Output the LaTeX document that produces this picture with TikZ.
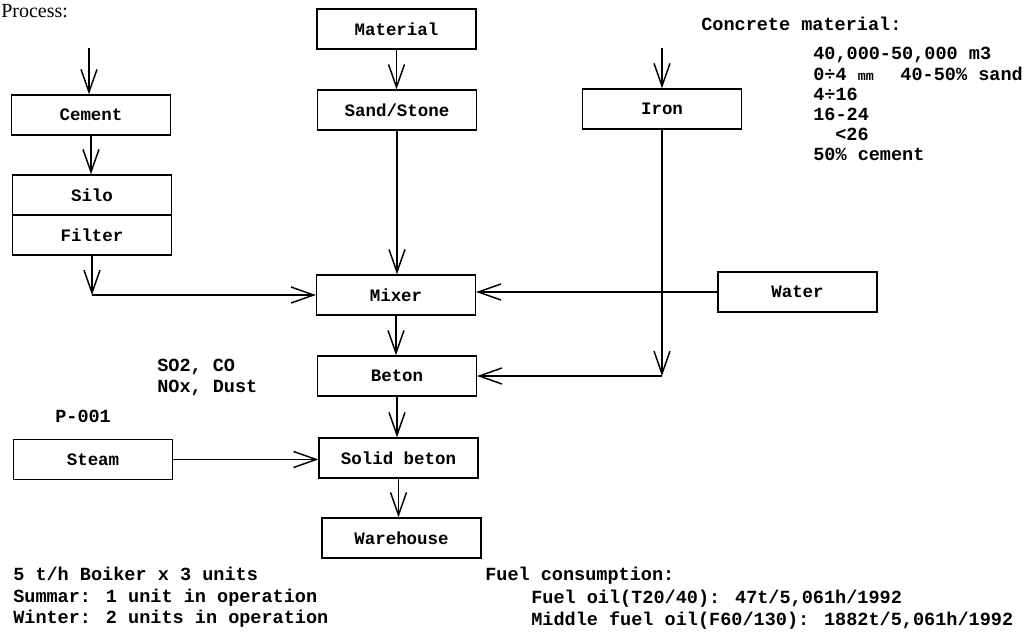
\documentclass[tikz,border=0pt]{standalone}
\usepackage{fontspec}
\setmainfont{Liberation Mono}
\newfontfamily\headfont{Liberation Serif}
\usetikzlibrary{arrows.meta}
\newcommand\labfont{\fontsize{13.1}{15}\selectfont\bfseries}
\newcommand\txtfont{\fontsize{13.9}{16}\selectfont\bfseries}
\begin{document}
\begin{tikzpicture}[x=0.75pt,y=-0.75pt,
  box/.style={draw, line width=1.1pt, minimum width=119pt, minimum height=30pt, inner sep=0pt, font=\labfont},
  arr/.style={line width=1.1pt, -{Straight Barb[length=17pt,width=12pt,line width=1.1pt]}},
  txt/.style={anchor=base west, inner sep=0pt, font=\txtfont}]
\useasboundingbox (0,0) rectangle (1029,632);
% boxes
\node[box] (cement) at (91,115) {Cement};
\node[box] (silo) at (92,195) {Silo};
\node[box] (filter) at (92,235) {Filter};
\node[box] (material) at (396.5,29) {Material};
\node[box] (sand) at (397,110) {Sand/Stone};
\node[box] (iron) at (662,109) {Iron};
\node[box] (mixer) at (396,295) {Mixer};
\node[box] (water) at (797.5,292) {Water};
\node[box] (beton) at (397,376) {Beton};
\node[box] (solid) at (398.5,458) {Solid beton};
\node[box] (warehouse) at (401.5,538) {Warehouse};
\node[box] (steam) at (93,459.5) {Steam};
% connectors
\coordinate (cin) at (89,48);
\draw[arr] (cin) -- (cin |- cement.north);
\draw[arr] (cement.south) -- (cement.south |- silo.north);
\coordinate (fc) at (filter.south |- mixer.west);
\draw[arr] (filter.south) -- (fc);
\draw[arr] (fc) -- (mixer.west);
\draw[arr] (material.south) -- (material.south |- sand.north);
\draw[arr] (sand.south) -- (sand.south |- mixer.north);
\coordinate (iin) at (iron.north |- cin);
\draw[arr] (iin) -- (iron.north);
\coordinate (ic) at (iron.south |- beton.east);
\draw[arr] (iron.south) -- (ic);
\draw[arr] (ic) -- (beton.east);
\draw[arr] (water.west) -- (water.west -| mixer.east);
\draw[arr] (mixer.south) -- (mixer.south |- beton.north);
\draw[arr] (beton.south) -- (beton.south |- solid.north);
\draw[arr] (steam.east) -- (steam.east -| solid.west);
\draw[arr] (solid.south) -- (solid.south |- warehouse.north);
% texts
\node[anchor=base west, inner sep=0pt, font=\headfont\fontsize{15}{18}\selectfont] (proc) at (1,17) {Process:};
\node[txt] (c0) at (701,30) {Concrete material:};
\node[txt] (c1) at (813,59.5) {40,000-50,000 m3};
\node[txt] (c2) at (813,80) {0÷4 {\fontsize{10}{12}\selectfont mm}\hspace{20pt}40-50\% sand};
\node[txt] (c3) at (813,100) {4÷16};
\node[txt] (c4) at (813,120) {16-24};
\node[txt] (c5) at (835,140) {<26};
\node[txt] (c6) at (813,160) {50\% cement};
\node[txt] (e1) at (157,371.5) {SO2, CO};
\node[txt] (e2) at (157,392) {NOx, Dust};
\node[txt] (p1) at (55,422) {P-001};
\node[txt] (b1) at (13,580) {5 t/h Boiker x 3 units};
\node[txt] (b2) at (13,602) {Summar: 1 unit in operation};
\node[txt] (b3) at (13,623) {Winter: 2 units in operation};
\node[txt] (f1) at (485,580) {Fuel consumption:};
\node[txt] (f2) at (531,603) {Fuel oil(T20/40): 47t/5,061h/1992};
\node[txt] (f3) at (531,625) {Middle fuel oil(F60/130): 1882t/5,061h/1992};
\end{tikzpicture}
\end{document}
